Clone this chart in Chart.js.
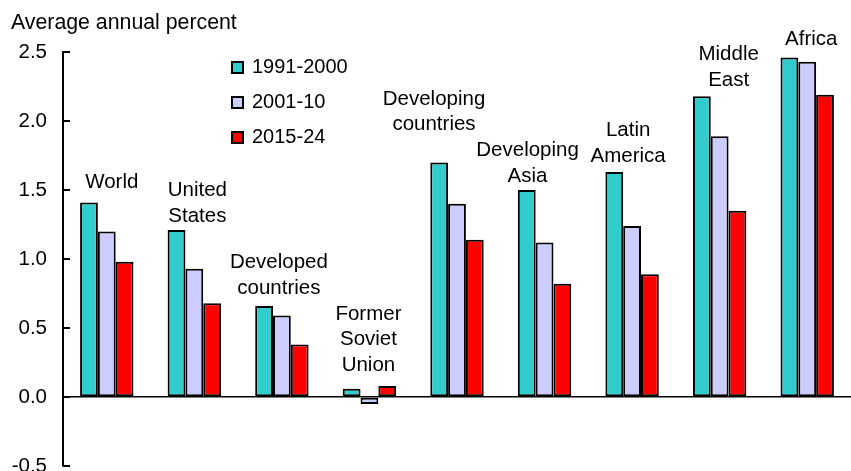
<!DOCTYPE html>
<html>
<head>
<meta charset="utf-8">
<script src="https://cdn.jsdelivr.net/npm/chart.js@4.4.0/dist/chart.umd.min.js"></script>
<style>
  html, body { margin: 0; padding: 0; background: #fff; }
  #wrap { width: 851px; height: 471px; position: relative; }
</style>
</head>
<body>
<div id="wrap"><canvas id="barChart"></canvas></div>
<script>
// data
const regions = ['World', 'United States', 'Developed countries', 'Former Soviet Union',
  'Developing countries', 'Developing Asia', 'Latin America', 'Middle East', 'Africa'];
const regionLines = [['World'], ['United', 'States'], ['Developed', 'countries'],
  ['Former', 'Soviet', 'Union'], ['Developing', 'countries'], ['Developing', 'Asia'],
  ['Latin', 'America'], ['Middle', 'East'], ['Africa']];
const periods = ['1991-2000', '2001-10', '2015-24'];
const growth1991 = [1.41, 1.21, 0.66, 0.06, 1.70, 1.50, 1.63, 2.18, 2.46];
const growth2001 = [1.20, 0.93, 0.59, -0.05, 1.40, 1.12, 1.24, 1.89, 2.43];
const growth2015 = [0.98, 0.68, 0.38, 0.08, 1.14, 0.82, 0.89, 1.35, 2.19];
const yTicks = [-0.5, 0, 0.5, 1, 1.5, 2, 2.5];

const FAMILY = '"Liberation Sans", Arial, sans-serif';
const FONT = '20.5px ' + FAMILY;

// little nudges so the region names sit where they do in the original
const labelShiftX = [5, 3, -3, -1, -23, -17, -4, 9, 4];
const labelLiftY = [4, -2, 2, 5, 22, -2, 0, 0, 2];

const decorations = {
  id: 'decorations',
  afterDatasetsDraw(chart) {
    const ctx = chart.ctx;
    const x = chart.scales.x, y = chart.scales.y;
    const area = chart.chartArea;
    ctx.save();
    ctx.fillStyle = '#000';
    ctx.strokeStyle = '#000';

    // axis title
    ctx.font = '21.3px ' + FAMILY;
    ctx.textAlign = 'left';
    ctx.textBaseline = 'alphabetic';
    ctx.fillText('Average annual percent', 11, 28.5);

    // inward tick marks
    ctx.lineWidth = 2;
    yTicks.forEach(v => {
      const py = y.getPixelForValue(v);
      ctx.beginPath();
      ctx.moveTo(area.left, py);
      ctx.lineTo(area.left + 7, py);
      ctx.stroke();
    });

    // region names above each group
    ctx.font = FONT;
    ctx.textAlign = 'center';
    ctx.textBaseline = 'middle';
    regionLines.forEach((lines, i) => {
      const top = Math.max(growth1991[i], growth2001[i], growth2015[i]);
      const cx = x.getPixelForValue(i) + labelShiftX[i];
      let cy = y.getPixelForValue(top) - 16 - labelLiftY[i];
      for (let k = lines.length - 1; k >= 0; k--) {
        ctx.fillText(lines[k], cx, cy);
        cy -= 25.5;
      }
    });

    // legend
    ctx.font = '20px ' + FAMILY;
    ctx.textAlign = 'left';
    chart.data.datasets.forEach((ds, i) => {
      const cy = 67.5 + 35 * i;
      ctx.fillStyle = ds.backgroundColor;
      ctx.fillRect(232, cy - 5.5, 11, 11);
      ctx.lineWidth = 2;
      ctx.strokeRect(232, cy - 5.5, 11, 11);
      ctx.fillStyle = '#000';
      ctx.fillText(ds.label, 252, cy);
    });
    ctx.restore();
  }
};

const ctx = document.getElementById('barChart').getContext('2d');

const myChart = new Chart(ctx, {
  type: 'bar',
  data: {
    labels: regions,
    datasets: [
      { label: periods[0], data: growth1991, backgroundColor: '#33CCCC' },
      { label: periods[1], data: growth2001, backgroundColor: '#CCCCFF' },
      { label: periods[2], data: growth2015, backgroundColor: '#FF0000' }
    ]
  },
  options: {
    responsive: true,
    maintainAspectRatio: false,
    animation: false,
    layout: { padding: { top: 52, bottom: 5, left: 0, right: -6 } },
    datasets: {
      bar: {
        borderColor: '#000',
        borderWidth: 2,
        borderSkipped: false,
        categoryPercentage: 0.61,
        barPercentage: 1
      }
    },
    plugins: {
      legend: { display: false },
      tooltip: { enabled: false }
    },
    scales: {
      x: { display: false },
      y: {
        min: -0.5,
        max: 2.5,
        afterBuildTicks(scale) { scale.ticks = yTicks.map(v => ({ value: v })); },
        afterFit(scale) {
          scale.width = 63;
          scale.paddingTop = 0;
          scale.paddingBottom = 0;
        },
        border: { display: true, color: '#000', width: 2 },
        grid: {
          drawTicks: false,
          color: c => (c.tick && c.tick.value === 0 ? '#000' : 'rgba(0,0,0,0)'),
          lineWidth: 1.5
        },
        ticks: {
          padding: 16,
          color: '#000',
          font: { family: FAMILY, size: 20.5 },
          callback: v => v.toFixed(1)
        }
      }
    }
  },
  plugins: [decorations]
});
</script>
</body>
</html>
